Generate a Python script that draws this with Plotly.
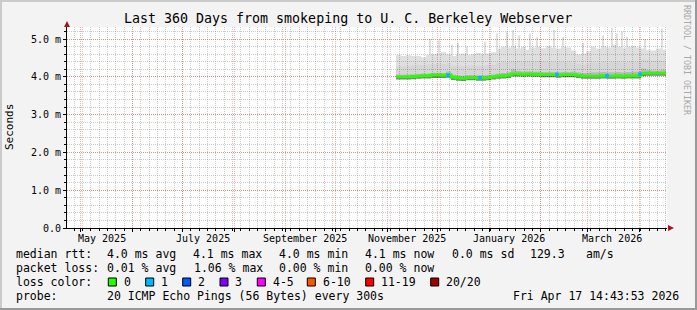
import plotly.graph_objects as go
import pandas as pd
import numpy as np

# ---------------- data ----------------
t_end = pd.Timestamp("2026-04-17 14:43:53")
t_start = t_end - pd.Timedelta(days=360)

# sample dates (every 3 days) of the smoke / median data
dates = pd.date_range("2025-11-06", periods=55, freq="3D")

median_ms = [4.00, 4.00, 4.00, 4.01, 4.02, 4.03, 4.03, 4.05, 4.05, 4.04,
             4.06, 3.99, 3.97, 3.96, 3.98, 3.98, 3.97, 3.97, 3.98, 4.00,
             4.02, 4.03, 4.04, 4.08, 4.08, 4.07, 4.08, 4.07, 4.07, 4.06,
             4.06, 4.06, 4.05, 4.06, 4.06, 4.06, 4.04, 4.02, 4.02, 4.02,
             4.02, 4.03, 4.02, 4.02, 4.03, 4.02, 4.03, 4.03, 4.03, 4.09,
             4.10, 4.10, 4.10, 4.10, 4.10]

smoke_lo = [3.93, 3.93, 3.93, 3.94, 3.95, 3.96, 3.96, 3.97, 3.97, 3.97,
            3.98, 3.92, 3.90, 3.89, 3.91, 3.91, 3.90, 3.90, 3.91, 3.93,
            3.95, 3.96, 3.97, 4.01, 4.01, 4.00, 4.01, 4.00, 4.00, 3.99,
            3.99, 3.99, 3.98, 3.99, 3.99, 3.99, 3.97, 3.95, 3.95, 3.95,
            3.95, 3.96, 3.95, 3.95, 3.96, 3.95, 3.96, 3.96, 3.96, 4.02,
            4.03, 4.03, 4.03, 4.03, 4.03]

smoke_near = [4.06, 4.06, 4.07, 4.07, 4.08, 4.09, 4.09, 4.11, 4.11, 4.10,
              4.14, 4.06, 4.04, 4.03, 4.05, 4.05, 4.04, 4.04, 4.05, 4.07,
              4.09, 4.10, 4.12, 4.20, 4.16, 4.14, 4.15, 4.14, 4.14, 4.13,
              4.13, 4.13, 4.12, 4.13, 4.13, 4.14, 4.12, 4.10, 4.11, 4.12,
              4.12, 4.13, 4.12, 4.12, 4.13, 4.12, 4.13, 4.14, 4.14, 4.22,
              4.18, 4.17, 4.17, 4.18, 4.18]

smoke_mid = [4.28, 4.28, 4.30, 4.30, 4.32, 4.32, 4.33, 4.35, 4.36, 4.35,
             4.36, 4.30, 4.30, 4.28, 4.30, 4.31, 4.30, 4.30, 4.32, 4.33,
             4.38, 4.40, 4.40, 4.42, 4.42, 4.40, 4.42, 4.41, 4.42, 4.40,
             4.40, 4.40, 4.40, 4.41, 4.40, 4.38, 4.35, 4.33, 4.35, 4.38,
             4.38, 4.40, 4.38, 4.40, 4.40, 4.38, 4.40, 4.41, 4.40, 4.45,
             4.44, 4.43, 4.44, 4.43, 4.44]

smoke_top = [4.58, 4.55, 4.57, 4.55, 4.55, 4.52, 4.58, 4.60, 4.62, 4.65,
             4.60, 4.55, 4.60, 4.62, 4.58, 4.60, 4.63, 4.60, 4.62, 4.65,
             4.75, 4.80, 4.78, 4.82, 4.75, 4.80, 4.72, 4.78, 4.80, 4.76,
             4.82, 4.78, 4.75, 4.80, 4.78, 4.70, 4.60, 4.62, 4.68, 4.80,
             4.75, 4.82, 4.78, 4.85, 4.80, 4.76, 4.80, 4.82, 4.78, 4.75,
             4.72, 4.70, 4.75, 4.72, 4.80]

spike_dates = ["2025-11-26 10:00", "2025-12-01 19:00", "2025-12-09 14:00",
               "2025-12-13 05:00", "2025-12-18 14:00", "2025-12-29 10:00",
               "2026-01-05 14:00", "2026-01-11 14:00", "2026-01-15 05:00",
               "2026-01-18 19:00", "2026-01-25 10:00", "2026-01-29 14:00",
               "2026-02-08 19:00", "2026-02-14 05:00", "2026-02-26 05:00",
               "2026-03-10 05:00", "2026-03-15 14:00", "2026-03-18 14:00",
               "2026-03-21 14:00", "2026-03-24 14:00", "2026-04-04 10:00",
               "2026-04-14 14:00"]
spike_ms = [5.00, 4.97, 4.85, 4.90, 4.80, 4.93, 5.15, 5.20, 5.24, 5.10, 5.15,
            5.05, 5.25, 5.05, 4.90, 5.10, 5.30, 5.15, 5.20, 5.05, 5.00, 5.28]

loss1_dates = ["2025-12-07 05:00", "2025-12-26 10:00", "2026-02-10 14:00",
               "2026-03-12 14:00", "2026-04-01 10:00"]
loss1_ms = [4.05, 3.98, 4.07, 4.03, 4.07]

month_starts = pd.date_range("2025-05-01", "2026-04-01", freq="MS")
x_label_dates = ["2025-05-13 10:00", "2025-07-13 10:00", "2025-09-12 10:00",
                 "2025-11-12 10:00", "2026-01-12 22:00", "2026-03-15 10:00"]
x_labels = ["May 2025", "July 2025", "September 2025", "November 2025",
            "January 2026", "March 2026"]
y_tickvals = [0, 1, 2, 3, 4, 5]
y_ticktext = ["0.0", "1.0 m", "2.0 m", "3.0 m", "4.0 m", "5.0 m"]

loss_labels = ["0", "1", "2", "3", "4-5", "6-10", "11-19", "20/20"]
loss_colors = ["#26ff00", "#00b8ff", "#0059ff", "#7e00ff", "#ff00ff",
               "#ff5500", "#ff0000", "#a00000"]

# ---------------- geometry helpers ----------------
W, H = 697, 310
L, R, T, B = 67, 30, 27, 82
PW, PH = W - L - R, H - T - B


def pxx(x):
    return (x - L) / PW


def pxy(y):
    return (H - B - y) / PH


FONT = "DejaVu Sans Mono"
fig = go.Figure()

# smoke bands (non overlapping, semi transparent so grid shows through)
fig.add_trace(go.Scatter(x=dates, y=smoke_lo, mode="lines",
                         line=dict(width=0, shape="hv"), hoverinfo="skip"))
for arr, col in [(median_ms, "rgba(0,0,0,0.50)"),
                 (smoke_near, "rgba(0,0,0,0.28)"),
                 (smoke_mid, "rgba(0,0,0,0.16)"),
                 (smoke_top, "rgba(0,0,0,0.125)")]:
    fig.add_trace(go.Scatter(x=dates, y=arr, mode="lines",
                             line=dict(width=0, shape="hv"),
                             fill="tonexty", fillcolor=col, hoverinfo="skip"))

# spikes of the lightest smoke layer
sd = pd.to_datetime(spike_dates)
idx = ((sd - dates[0]) // pd.Timedelta(days=3)).astype(int)
base = np.array(smoke_top)[np.clip(idx, 0, len(smoke_top) - 1)]
fig.add_trace(go.Bar(x=sd, y=np.array(spike_ms) - base, base=base,
                     width=1.2 * 86400000,
                     marker=dict(color="rgba(0,0,0,0.125)", line=dict(width=0)),
                     hoverinfo="skip"))

# median line
fig.add_trace(go.Scatter(x=dates, y=median_ms, mode="lines",
                         line=dict(color="#26ff00", width=2.8, shape="hv"),
                         hoverinfo="skip"))
fig.add_trace(go.Scatter(x=pd.to_datetime(loss1_dates), y=loss1_ms, mode="markers",
                         marker=dict(symbol="square", size=3.5, color="#00b8ff",
                                     line=dict(width=0)),
                         hoverinfo="skip"))

RED = "rgba(222,79,79,0.45)"
GRAY = "rgba(143,143,143,0.45)"
DASH = "1px,1px"

fig.update_layout(
    width=W, height=H, margin=dict(l=L, r=R, t=T, b=B),
    paper_bgcolor="#f3f3f3", plot_bgcolor="#ffffff", showlegend=False,
    font=dict(family=FONT, size=10, color="#000000"), barmode="overlay",
)
fig.update_xaxes(
    type="date", range=[t_start, t_end], tickmode="array", tickvals=month_starts,
    showticklabels=False, showgrid=True, gridcolor=RED, griddash=DASH, gridwidth=1,
    ticks="outside", ticklen=3, tickcolor="#000", showline=True, linecolor="#000",
    linewidth=1, zeroline=False,
    minor=dict(tickmode="linear", tick0="2025-04-27", dtick=5 * 86400000,
               showgrid=True, gridcolor=GRAY, griddash=DASH, ticks="outside",
               ticklen=2, tickcolor="#000"),
)
fig.update_yaxes(
    range=[0, 5.32], tickmode="array", tickvals=y_tickvals, ticktext=y_ticktext,
    showgrid=True, gridcolor=RED, griddash=DASH, gridwidth=1,
    ticks="outside", ticklen=3, tickcolor="#000", showline=True, linecolor="#000",
    linewidth=1, zeroline=False, tickfont=dict(size=10, family=FONT),
    minor=dict(tickmode="linear", tick0=0, dtick=0.2, showgrid=True,
               gridcolor=GRAY, griddash=DASH, ticks="outside", ticklen=2,
               tickcolor="#000"),
)

ann = []


def text(s, x, y, size=11.5, xanchor="left", color="#000", angle=0, xref="paper"):
    ann.append(dict(text=s, x=x, y=pxy(y), xref=xref, yref="paper",
                    xanchor=xanchor, yanchor="middle", showarrow=False,
                    textangle=angle, borderpad=0,
                    font=dict(family=FONT, size=size, color=color)))


text("Last 360 Days from smokeping to U. C. Berkeley Webserver", pxx(347.5), 19,
     size=13.3, xanchor="center")
text("Seconds", pxx(10), 127, size=11, xanchor="center", angle=-90)
text("RRDTOOL / TOBI OETIKER", pxx(687), 60, size=8.3, xanchor="center",
     color="#a8a8a8", angle=90)
for d, s in zip(x_label_dates, x_labels):
    text(s, pd.Timestamp(d), 238, size=10, xanchor="center", xref="x")

rows = [
    (254, [("median rtt:", 16), ("4.0 ms avg", 106.7), ("4.1 ms max", 193.3),
           ("4.0 ms min", 279.3), ("4.1 ms now", 365), ("0.0 ms sd", 451.7),
           ("129.3", 530), ("am/s", 586)]),
    (268, [("packet loss:", 16), ("0.01 % avg", 107.3), ("1.06 % max", 194),
           ("0.00 % min", 279.3), ("0.00 % now", 365)]),
    (282, [("loss color:", 16)]),
    (296, [("probe:", 16), ("20 ICMP Echo Pings (56 Bytes) every 300s", 107.3),
           ("Fri Apr 17 14:43:53 2026", 513.3)]),
]
for y, items in rows:
    for s, x in items:
        text(s, pxx(x - 1), y)

shapes = []
box_x = [108.3, 145.7, 182.7, 220, 257.3, 307.3, 365.7, 430.7]
for bx, lab, col in zip(box_x, loss_labels, loss_colors):
    shapes.append(dict(type="rect", xref="paper", yref="paper",
                       x0=pxx(bx), x1=pxx(bx + 8), y0=pxy(278), y1=pxy(286),
                       fillcolor=col, line=dict(color="#000", width=1)))
    text(lab, pxx(bx + 15.3 - 1), 282)

ARROW = "#a01818"
shapes.append(dict(type="path", xref="paper", yref="paper",
                   path=f"M {pxx(64)} {pxy(27)} L {pxx(70)} {pxy(27)} L {pxx(67)} {pxy(21)} Z",
                   fillcolor=ARROW, line=dict(width=0)))
shapes.append(dict(type="path", xref="paper", yref="paper",
                   path=f"M {pxx(668)} {pxy(225)} L {pxx(668)} {pxy(231)} L {pxx(674)} {pxy(228)} Z",
                   fillcolor=ARROW, line=dict(width=0)))
# 3D frame
for x0, y0, x1, y1, c in [(0, 0, W, 2, "#cbcbcb"), (0, 0, 2, H, "#cbcbcb"),
                          (0, H - 2, W, H, "#999999"), (W - 2, 0, W, H, "#999999")]:
    shapes.append(dict(type="rect", xref="paper", yref="paper",
                       x0=pxx(x0), x1=pxx(x1), y0=pxy(y0), y1=pxy(y1),
                       fillcolor=c, line=dict(width=0), layer="above"))

fig.update_layout(annotations=ann, shapes=shapes)
fig.write_html("out.html")
